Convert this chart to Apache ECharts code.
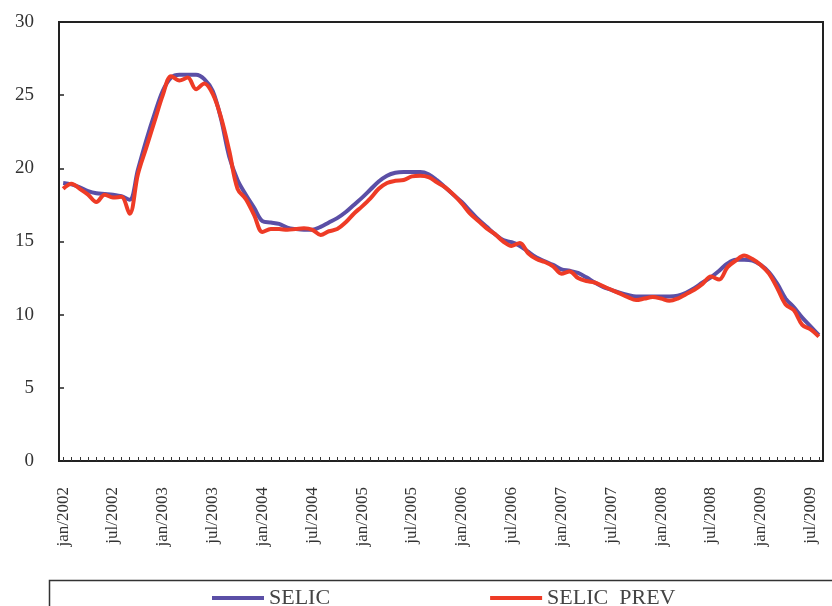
<!DOCTYPE html>
<html>
<head>
<meta charset="utf-8">
<script src="https://cdn.jsdelivr.net/npm/echarts@6/dist/echarts.min.js"></script>
<style>
html,body{margin:0;padding:0;background:#fff;}
#chart{width:832px;height:606px;}
</style>
</head>
<body>
<div id="chart"></div>
<script>
// Months jan/2002 .. ago/2009
var monthNames = ['jan','fev','mar','abr','mai','jun','jul','ago','set','out','nov','dez'];
var years = [2002,2003,2004,2005,2006,2007,2008,2009];
var categories = [];
years.forEach(function(y){ monthNames.forEach(function(m){ categories.push(m + '/' + y); }); });
categories = categories.slice(0, 92);

var selic = [
  19.0, 18.9, 18.7, 18.45, 18.3, 18.25, 18.2, 18.1, 17.85, 19.9, 21.9, 23.7,
  25.3, 26.2, 26.4, 26.4, 26.4, 26.1, 25.3, 23.4, 20.8, 19.2, 18.2, 17.3,
  16.4, 16.3, 16.2, 15.95, 15.85, 15.8, 15.8, 16.0, 16.3, 16.6, 17.0, 17.5,
  18.0, 18.55, 19.1, 19.5, 19.7, 19.75, 19.75, 19.75, 19.6, 19.2, 18.7, 18.2,
  17.7, 17.1, 16.5, 16.0, 15.5, 15.1, 14.95, 14.7, 14.3, 13.9, 13.65, 13.4,
  13.1, 13.0, 12.85, 12.55, 12.2, 11.9, 11.7, 11.5, 11.35, 11.25, 11.25, 11.25,
  11.25, 11.25, 11.3, 11.5, 11.8, 12.2, 12.55, 13.0, 13.5, 13.75, 13.75, 13.7,
  13.4, 12.9, 12.1, 11.1, 10.5, 9.8, 9.2, 8.6
];
var selicPrev = [
  18.6, 18.95, 18.6, 18.2, 17.7, 18.2, 18.0, 18.05, 16.9, 19.6, 21.4, 23.2,
  25.0, 26.3, 26.0, 26.2, 25.4, 25.8, 25.1, 23.5, 21.2, 18.6, 17.9, 16.8,
  15.65, 15.85, 15.85, 15.8, 15.85, 15.9, 15.8, 15.45, 15.7, 15.85, 16.3, 16.9,
  17.4, 17.95, 18.6, 19.0, 19.15, 19.2, 19.45, 19.5, 19.4, 19.05, 18.7, 18.2,
  17.6, 16.9, 16.4, 15.9, 15.5, 15.0, 14.7, 14.9, 14.2, 13.8, 13.6, 13.3,
  12.8, 12.95, 12.5, 12.3, 12.2, 11.95, 11.7, 11.45, 11.2, 11.0, 11.1, 11.2,
  11.1, 10.95, 11.1, 11.4, 11.7, 12.1, 12.6, 12.4, 13.25, 13.7, 14.05, 13.8,
  13.4, 12.8, 11.8, 10.7, 10.3, 9.3, 9.0, 8.5
];
var seriesNames = ['SELIC', 'SELIC  PREV'];

var serif = '"Liberation Serif", "Times New Roman", serif';
var chart = echarts.init(document.getElementById('chart'), null, {renderer: 'canvas'});
chart.setOption({
  animation: false,
  backgroundColor: '#fff',
  grid: {left: 59, top: 22, right: 9, bottom: 145, show: true, borderColor: '#222', borderWidth: 2},
  legend: {
    data: seriesNames,
    left: 207, top: 582,
    icon: 'rect', itemWidth: 52, itemHeight: 4, itemGap: 160,
    textStyle: {fontFamily: serif, fontSize: 22, color: '#444'}
  },
  graphic: [{
    type: 'rect', left: 47, top: 578, shape: {width: 820, height: 60},
    style: {fill: 'none', stroke: '#333', lineWidth: 1.5}, silent: true
  }],
  xAxis: {
    type: 'category', data: categories, boundaryGap: true,
    axisLine: {lineStyle: {color: '#222', width: 2}},
    axisTick: {show: true, inside: true, interval: 0, length: 4, alignWithLabel: true, lineStyle: {color: '#333', width: 1}},
    axisLabel: {
      rotate: 90, margin: 26, fontFamily: serif, fontSize: 17, color: '#333',
      interval: function (idx) { return idx % 6 === 0; }
    },
    splitLine: {show: false}
  },
  yAxis: {
    type: 'value', min: 0, max: 30, interval: 5,
    axisLine: {show: true, lineStyle: {color: '#222', width: 2}},
    axisTick: {show: true, inside: true, length: 5, lineStyle: {color: '#222', width: 1.5}},
    axisLabel: {fontFamily: serif, fontSize: 19, color: '#333', margin: 25},
    splitLine: {show: false}
  },
  series: [
    {name: seriesNames[0], type: 'line', data: selic, smooth: 0.35, symbol: 'none',
     lineStyle: {color: '#5b4fa6', width: 4}, itemStyle: {color: '#5b4fa6'}},
    {name: seriesNames[1], type: 'line', data: selicPrev, smooth: 0.35, symbol: 'none',
     lineStyle: {color: '#ee3b26', width: 4}, itemStyle: {color: '#ee3b26'}}
  ]
});
</script>
</body>
</html>
